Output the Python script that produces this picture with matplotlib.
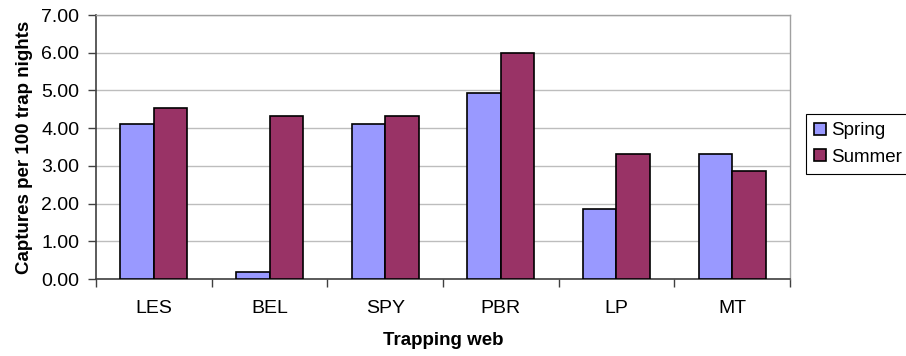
import numpy as np
import matplotlib.pyplot as plt

plt.rcParams['font.family'] = ['Liberation Sans', 'DejaVu Sans']

webs = ['LES', 'BEL', 'SPY', 'PBR', 'LP', 'MT']
spring = [4.11, 0.19, 4.11, 4.92, 1.85, 3.31]
summer = [4.53, 4.32, 4.32, 6.00, 3.31, 2.86]

fig = plt.figure(figsize=(9.06, 3.56), dpi=100)
ax = fig.add_axes([96 / 906, 1 - 279 / 356, 694 / 906, 264 / 356])

x = np.arange(len(webs))
w = 0.29
ax.bar(x - w / 2, spring, w, color='#9999FF', edgecolor='black', linewidth=1.2,
       label='Spring', zorder=3)
ax.bar(x + w / 2, summer, w, color='#993366', edgecolor='black', linewidth=1.2,
       label='Summer', zorder=3)

ax.set_xlim(-0.5, len(webs) - 0.5)
ax.set_ylim(0, 7)
ax.set_yticks(np.arange(0, 7.01, 1))
ax.set_yticklabels(['%.2f' % v for v in np.arange(0, 7.01, 1)], fontsize=14)
ax.yaxis.grid(True, color='#BDBDBD', linewidth=1, zorder=0)

# category names sit between boundary ticks
ax.set_xticks(np.arange(-0.5, len(webs)), minor=False)
ax.set_xticklabels([])
ax.set_xticks(x, minor=True)
ax.set_xticklabels(webs, minor=True, fontsize=14)
ax.tick_params(axis='x', which='minor', length=0, pad=15)
ax.tick_params(axis='x', which='major', length=6, width=1, color='#404040', direction='out')
ax.tick_params(axis='y', length=6, width=1, color='#404040', pad=6)

for s in ['left', 'bottom']:
    ax.spines[s].set_color('#404040')
    ax.spines[s].set_linewidth(1.2)
for s in ['top', 'right']:
    ax.spines[s].set_color('#A0A0A0')
    ax.spines[s].set_linewidth(1)

ax.set_xlabel('Trapping web', fontsize=13.5, fontweight='bold', labelpad=11)
ax.set_ylabel('Captures per 100 trap nights', fontsize=13.5, fontweight='bold', labelpad=6)

leg = fig.legend(loc='upper left', bbox_to_anchor=(806 / 906, 1 - 114 / 356),
                 fontsize=13.5, frameon=True, fancybox=False, framealpha=1,
                 edgecolor='black', handlelength=0.6, handleheight=0.6,
                 handletextpad=0.3, borderpad=0.45, labelspacing=0.5,
                 borderaxespad=0)
leg.get_frame().set_linewidth(0.8)

fig.savefig('out.png', dpi=100)
